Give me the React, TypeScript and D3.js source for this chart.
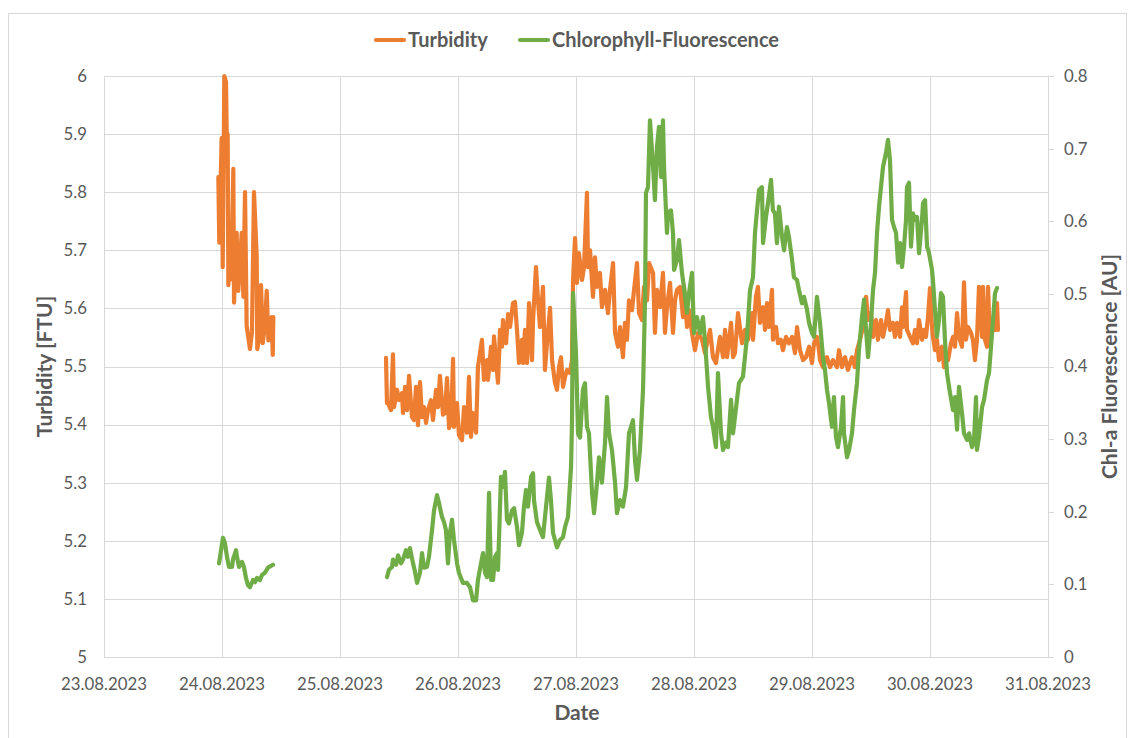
import React, { useEffect, useRef } from 'react';
import * as d3 from 'd3';

// [decimal day of August 2023, value]
const turbidityA: [number, number][] = [
  [23.969, 5.826], [23.977, 5.713], [23.997, 5.893], [24.006, 5.671], [24.020, 6.0], [24.034, 5.99],
  [24.040, 5.9], [24.048, 5.9], [24.054, 5.64], [24.068, 5.72], [24.078, 5.65], [24.096, 5.84],
  [24.102, 5.61], [24.124, 5.73], [24.138, 5.63], [24.167, 5.73], [24.181, 5.62], [24.195, 5.8],
  [24.209, 5.57], [24.237, 5.53], [24.254, 5.56], [24.271, 5.8], [24.294, 5.69], [24.299, 5.53],
  [24.316, 5.55], [24.331, 5.64], [24.345, 5.54], [24.364, 5.57], [24.379, 5.63], [24.393, 5.545],
  [24.407, 5.58], [24.421, 5.585], [24.430, 5.52], [24.435, 5.585],
];

const turbidityB: [number, number][] = [
  [25.390, 5.515], [25.398, 5.437], [25.407, 5.437], [25.432, 5.425], [25.449, 5.521], [25.458, 5.430],
  [25.483, 5.460], [25.500, 5.442], [25.525, 5.454], [25.534, 5.420], [25.551, 5.465], [25.568, 5.425],
  [25.585, 5.484], [25.610, 5.413], [25.627, 5.408], [25.644, 5.465], [25.661, 5.399], [25.678, 5.473],
  [25.695, 5.413], [25.712, 5.430], [25.729, 5.403], [25.746, 5.425], [25.771, 5.442], [25.788, 5.408],
  [25.814, 5.460], [25.831, 5.430], [25.847, 5.484], [25.873, 5.417], [25.890, 5.420], [25.907, 5.480],
  [25.924, 5.394], [25.941, 5.403], [25.958, 5.513], [25.966, 5.396], [25.992, 5.437], [26.008, 5.382],
  [26.034, 5.373], [26.051, 5.430], [26.076, 5.386], [26.093, 5.482], [26.110, 5.379], [26.127, 5.420],
  [26.153, 5.386], [26.169, 5.499], [26.203, 5.546], [26.220, 5.477], [26.246, 5.511], [26.254, 5.477],
  [26.280, 5.534], [26.297, 5.494], [26.305, 5.552], [26.331, 5.489], [26.339, 5.472], [26.356, 5.563],
  [26.373, 5.534], [26.381, 5.580], [26.407, 5.540], [26.424, 5.590], [26.441, 5.568], [26.466, 5.609],
  [26.483, 5.611], [26.500, 5.563], [26.517, 5.506], [26.542, 5.546], [26.551, 5.506], [26.568, 5.563],
  [26.585, 5.506], [26.602, 5.609], [26.627, 5.511], [26.636, 5.580], [26.661, 5.671], [26.678, 5.614],
  [26.695, 5.568], [26.720, 5.637], [26.737, 5.494], [26.754, 5.540], [26.780, 5.601], [26.797, 5.511],
  [26.822, 5.472], [26.839, 5.460], [26.856, 5.499], [26.873, 5.516], [26.890, 5.465], [26.907, 5.482],
  [26.924, 5.494], [26.949, 5.489], [26.966, 5.511], [26.975, 5.649], [26.992, 5.721], [27.008, 5.644],
  [27.025, 5.695], [27.051, 5.649], [27.068, 5.671], [27.093, 5.799], [27.102, 5.671], [27.119, 5.700],
  [27.144, 5.620], [27.161, 5.688], [27.178, 5.637], [27.203, 5.661], [27.220, 5.602], [27.246, 5.632],
  [27.271, 5.592], [27.288, 5.632], [27.314, 5.678], [27.331, 5.558], [27.356, 5.534], [27.373, 5.568],
  [27.398, 5.516], [27.415, 5.575], [27.432, 5.546], [27.449, 5.614], [27.475, 5.597], [27.492, 5.632],
  [27.517, 5.678], [27.534, 5.592], [27.559, 5.580], [27.576, 5.637], [27.602, 5.614], [27.619, 5.678],
  [27.653, 5.661], [27.669, 5.558], [27.686, 5.632], [27.712, 5.602], [27.737, 5.661], [27.754, 5.558],
  [27.771, 5.602], [27.797, 5.644], [27.822, 5.558], [27.839, 5.614], [27.856, 5.632], [27.881, 5.637],
  [27.907, 5.585], [27.915, 5.637], [27.941, 5.568], [27.958, 5.597], [27.983, 5.558], [28.008, 5.528],
  [28.034, 5.558], [28.068, 5.546], [28.093, 5.523], [28.136, 5.563], [28.161, 5.516], [28.186, 5.506],
  [28.220, 5.551], [28.246, 5.516], [28.263, 5.563], [28.280, 5.516], [28.314, 5.575], [28.331, 5.516],
  [28.347, 5.523], [28.373, 5.592], [28.407, 5.540], [28.432, 5.563], [28.458, 5.546], [28.492, 5.592],
  [28.500, 5.546], [28.525, 5.620], [28.542, 5.637], [28.559, 5.575], [28.585, 5.602], [28.602, 5.563],
  [28.619, 5.609], [28.636, 5.568], [28.661, 5.632], [28.669, 5.546], [28.695, 5.568], [28.712, 5.540],
  [28.737, 5.546], [28.754, 5.528], [28.780, 5.551], [28.805, 5.540], [28.831, 5.551], [28.856, 5.523],
  [28.873, 5.568], [28.898, 5.528], [28.924, 5.511], [28.949, 5.516], [28.975, 5.534], [29.000, 5.506],
  [29.017, 5.540], [29.042, 5.551], [29.059, 5.528], [29.068, 5.511], [29.093, 5.499], [29.127, 5.516],
  [29.153, 5.499], [29.178, 5.511], [29.212, 5.499], [29.229, 5.528], [29.254, 5.499], [29.280, 5.516],
  [29.305, 5.494], [29.339, 5.516], [29.364, 5.499], [29.381, 5.528], [29.407, 5.546], [29.432, 5.568],
  [29.458, 5.620], [29.475, 5.580], [29.500, 5.592], [29.517, 5.551], [29.542, 5.580], [29.559, 5.546],
  [29.585, 5.580], [29.602, 5.551], [29.627, 5.575], [29.644, 5.597], [29.661, 5.563], [29.686, 5.575],
  [29.703, 5.551], [29.720, 5.575], [29.746, 5.551], [29.763, 5.602], [29.771, 5.568], [29.797, 5.628],
  [29.805, 5.563], [29.831, 5.551], [29.856, 5.540], [29.873, 5.563], [29.890, 5.540], [29.907, 5.580],
  [29.932, 5.546], [29.949, 5.563], [29.966, 5.551], [29.983, 5.585], [30.000, 5.635], [30.017, 5.568],
  [30.025, 5.551], [30.042, 5.528], [30.059, 5.546], [30.076, 5.511], [30.102, 5.534], [30.119, 5.499],
  [30.136, 5.523], [30.153, 5.511], [30.178, 5.540], [30.195, 5.551], [30.212, 5.534], [30.229, 5.592],
  [30.246, 5.551], [30.271, 5.534], [30.288, 5.645], [30.305, 5.546], [30.322, 5.568], [30.347, 5.558],
  [30.364, 5.546], [30.381, 5.511], [30.398, 5.546], [30.415, 5.637], [30.441, 5.551], [30.449, 5.637],
  [30.466, 5.546], [30.483, 5.534], [30.492, 5.637], [30.508, 5.540], [30.534, 5.568], [30.551, 5.563],
  [30.568, 5.609], [30.576, 5.563],
];

const chlA: [number, number][] = [
  [23.975, 0.129], [23.992, 0.147], [24.008, 0.164], [24.025, 0.157], [24.042, 0.138], [24.059, 0.124],
  [24.085, 0.124], [24.093, 0.134], [24.119, 0.147], [24.127, 0.138], [24.144, 0.124], [24.169, 0.131],
  [24.186, 0.124], [24.203, 0.109], [24.220, 0.099], [24.237, 0.096], [24.263, 0.106], [24.280, 0.103],
  [24.297, 0.109], [24.322, 0.106], [24.339, 0.113], [24.364, 0.116], [24.390, 0.123], [24.432, 0.127],
];

const chlB: [number, number][] = [
  [25.398, 0.110], [25.415, 0.120], [25.441, 0.124], [25.449, 0.134], [25.475, 0.127], [25.492, 0.140],
  [25.517, 0.129], [25.534, 0.134], [25.559, 0.147], [25.576, 0.138], [25.593, 0.150], [25.619, 0.129],
  [25.636, 0.117], [25.653, 0.102], [25.678, 0.116], [25.695, 0.143], [25.712, 0.123], [25.737, 0.124],
  [25.754, 0.138], [25.780, 0.175], [25.797, 0.202], [25.822, 0.223], [25.839, 0.212], [25.864, 0.193],
  [25.881, 0.186], [25.898, 0.175], [25.915, 0.129], [25.932, 0.171], [25.949, 0.189], [25.966, 0.161],
  [25.992, 0.129], [26.008, 0.116], [26.042, 0.102], [26.076, 0.102], [26.102, 0.096], [26.127, 0.078],
  [26.153, 0.078], [26.169, 0.106], [26.195, 0.129], [26.212, 0.143], [26.229, 0.116], [26.246, 0.110],
  [26.263, 0.226], [26.280, 0.106], [26.297, 0.106], [26.314, 0.138], [26.331, 0.143], [26.339, 0.120],
  [26.364, 0.248], [26.381, 0.234], [26.398, 0.255], [26.415, 0.189], [26.432, 0.184], [26.458, 0.202],
  [26.475, 0.205], [26.500, 0.179], [26.517, 0.154], [26.542, 0.171], [26.559, 0.207], [26.576, 0.230],
  [26.593, 0.207], [26.619, 0.248], [26.636, 0.253], [26.644, 0.216], [26.669, 0.186], [26.695, 0.175],
  [26.720, 0.165], [26.746, 0.207], [26.771, 0.247], [26.788, 0.216], [26.805, 0.171], [26.839, 0.151],
  [26.864, 0.161], [26.890, 0.165], [26.907, 0.179], [26.932, 0.193], [26.958, 0.262], [26.966, 0.322],
  [26.975, 0.501], [27.000, 0.419], [27.017, 0.308], [27.034, 0.302], [27.059, 0.368], [27.076, 0.377],
  [27.093, 0.317], [27.110, 0.308], [27.136, 0.226], [27.153, 0.198], [27.178, 0.240], [27.195, 0.275],
  [27.220, 0.240], [27.246, 0.295], [27.263, 0.358], [27.280, 0.308], [27.305, 0.285], [27.331, 0.240],
  [27.347, 0.198], [27.373, 0.216], [27.398, 0.207], [27.424, 0.234], [27.449, 0.308], [27.483, 0.326],
  [27.500, 0.271], [27.517, 0.244], [27.542, 0.285], [27.568, 0.368], [27.585, 0.492], [27.593, 0.639],
  [27.610, 0.647], [27.627, 0.739], [27.653, 0.675], [27.669, 0.629], [27.686, 0.702], [27.703, 0.730],
  [27.720, 0.661], [27.737, 0.739], [27.746, 0.675], [27.771, 0.584], [27.780, 0.611], [27.805, 0.615],
  [27.822, 0.584], [27.831, 0.533], [27.856, 0.547], [27.873, 0.574], [27.898, 0.529], [27.915, 0.509],
  [27.941, 0.474], [27.958, 0.501], [27.983, 0.529], [28.000, 0.446], [28.025, 0.468], [28.051, 0.446],
  [28.076, 0.468], [28.093, 0.436], [28.119, 0.372], [28.144, 0.330], [28.161, 0.317], [28.186, 0.289],
  [28.203, 0.391], [28.229, 0.308], [28.246, 0.285], [28.271, 0.295], [28.288, 0.289], [28.314, 0.354],
  [28.331, 0.308], [28.364, 0.354], [28.381, 0.377], [28.415, 0.386], [28.449, 0.441], [28.475, 0.505],
  [28.500, 0.523], [28.517, 0.584], [28.534, 0.615], [28.551, 0.643], [28.576, 0.647], [28.585, 0.570],
  [28.610, 0.606], [28.627, 0.625], [28.653, 0.657], [28.669, 0.615], [28.686, 0.611], [28.703, 0.570],
  [28.720, 0.620], [28.746, 0.578], [28.763, 0.560], [28.788, 0.592], [28.805, 0.578], [28.831, 0.547],
  [28.847, 0.523], [28.873, 0.519], [28.890, 0.505], [28.915, 0.487], [28.932, 0.496], [28.958, 0.478],
  [28.975, 0.460], [29.000, 0.446], [29.017, 0.441], [29.034, 0.478], [29.042, 0.496], [29.068, 0.460],
  [29.093, 0.413], [29.110, 0.395], [29.127, 0.368], [29.144, 0.350], [29.169, 0.317], [29.186, 0.358],
  [29.203, 0.303], [29.220, 0.289], [29.246, 0.317], [29.263, 0.358], [29.271, 0.308], [29.297, 0.275],
  [29.314, 0.285], [29.339, 0.308], [29.356, 0.340], [29.381, 0.377], [29.398, 0.423], [29.424, 0.468],
  [29.441, 0.492], [29.458, 0.450], [29.475, 0.413], [29.500, 0.460], [29.517, 0.505], [29.534, 0.529],
  [29.551, 0.584], [29.568, 0.620], [29.602, 0.675], [29.627, 0.694], [29.644, 0.712], [29.661, 0.684],
  [29.678, 0.602], [29.695, 0.592], [29.712, 0.584], [29.729, 0.543], [29.746, 0.570], [29.763, 0.537],
  [29.780, 0.565], [29.797, 0.602], [29.805, 0.647], [29.822, 0.653], [29.839, 0.565], [29.856, 0.611],
  [29.873, 0.602], [29.890, 0.606], [29.907, 0.556], [29.932, 0.602], [29.941, 0.625], [29.958, 0.629],
  [29.975, 0.565], [29.992, 0.556], [30.017, 0.533], [30.025, 0.519], [30.042, 0.478], [30.059, 0.441],
  [30.076, 0.464], [30.093, 0.501], [30.110, 0.496], [30.127, 0.436], [30.144, 0.391], [30.169, 0.364],
  [30.195, 0.340], [30.212, 0.358], [30.229, 0.313], [30.246, 0.372], [30.271, 0.336], [30.288, 0.308],
  [30.314, 0.299], [30.331, 0.308], [30.356, 0.289], [30.373, 0.299], [30.390, 0.358], [30.398, 0.285],
  [30.415, 0.303], [30.441, 0.344], [30.458, 0.354], [30.483, 0.381], [30.500, 0.391], [30.517, 0.427],
  [30.534, 0.464], [30.551, 0.501], [30.568, 0.508],
];

const dayTicks = [23, 24, 25, 26, 27, 28, 29, 30, 31];
const turbidityTicks = [5, 5.1, 5.2, 5.3, 5.4, 5.5, 5.6, 5.7, 5.8, 5.9, 6];
const chlTicks = [0, 0.1, 0.2, 0.3, 0.4, 0.5, 0.6, 0.7, 0.8];

const ORANGE = '#ED7D31';
const GREEN = '#70AD47';
const TEXT = '#595959';
const GRID = '#d9d9d9';
const FONT = 'Lato, "Open Sans", sans-serif';

const toDate = (d: number) => new Date(Date.UTC(2023, 7, 1) + (d - 1) * 864e5);

const App = () => {
  const ref = useRef<SVGSVGElement>(null);

  useEffect(() => {
    const svg = d3.select(ref.current);
    svg.selectAll('*').remove();

    const left = 104, right = 1048, top = 76, bottom = 657;

    const x = d3.scaleUtc().domain([toDate(23), toDate(31)]).range([left, right]);
    const yL = d3.scaleLinear().domain([5, 6]).range([bottom, top]);
    const yR = d3.scaleLinear().domain([0, 0.8]).range([bottom, top]);
    const fmtDate = d3.utcFormat('%d.%m.%Y');

    // chart frame
    svg.append('rect')
      .attr('x', 8.5).attr('y', 13.5)
      .attr('width', 1118).attr('height', 740)
      .attr('fill', 'white').attr('stroke', GRID);

    // gridlines
    svg.append('g').selectAll('line')
      .data(turbidityTicks)
      .join('line')
      .attr('x1', left).attr('x2', right)
      .attr('y1', d => Math.round(yL(d)) + 0.5).attr('y2', d => Math.round(yL(d)) + 0.5)
      .attr('stroke', GRID).attr('stroke-width', 1);

    svg.append('g').selectAll('line')
      .data(dayTicks)
      .join('line')
      .attr('x1', d => Math.round(x(toDate(d))) + 0.5).attr('x2', d => Math.round(x(toDate(d))) + 0.5)
      .attr('y1', top).attr('y2', bottom)
      .attr('stroke', GRID).attr('stroke-width', 1);

    // right axis tick marks
    svg.append('g').selectAll('line')
      .data(chlTicks)
      .join('line')
      .attr('x1', right).attr('x2', right + 6)
      .attr('y1', d => Math.round(yR(d)) + 0.5).attr('y2', d => Math.round(yR(d)) + 0.5)
      .attr('stroke', GRID).attr('stroke-width', 1);

    // tick labels
    const labels = svg.append('g')
      .attr('font-family', FONT).attr('font-size', 16.8).attr('fill', TEXT);

    labels.selectAll('text.yl')
      .data(turbidityTicks)
      .join('text')
      .attr('class', 'yl')
      .attr('x', 87).attr('y', d => yL(d))
      .attr('dy', '0.35em').attr('text-anchor', 'end')
      .text(d => d3.format('~g')(d));

    labels.selectAll('text.yr')
      .data(chlTicks)
      .join('text')
      .attr('class', 'yr')
      .attr('x', 1064).attr('y', d => yR(d))
      .attr('dy', '0.35em').attr('text-anchor', 'start')
      .text(d => d3.format('~g')(d));

    labels.selectAll('text.xl')
      .data(dayTicks)
      .join('text')
      .attr('class', 'xl')
      .attr('x', d => x(toDate(d))).attr('y', 684)
      .attr('dy', '0.35em').attr('text-anchor', 'middle')
      .text(d => fmtDate(toDate(d)));

    // axis titles
    const titles = svg.append('g')
      .attr('font-family', FONT).attr('font-size', 21).attr('font-weight', 'bold').attr('fill', TEXT)
      .attr('text-anchor', 'middle');

    titles.append('text').attr('x', 577).attr('y', 713).attr('dy', '0.35em').text('Date');
    titles.append('text')
      .attr('transform', `translate(45,${(top + bottom) / 2}) rotate(-90)`)
      .attr('dy', '0.35em').text('Turbidity [FTU]');
    titles.append('text')
      .attr('transform', `translate(1110,${(top + bottom) / 2}) rotate(-90)`)
      .attr('dy', '0.35em').text('Chl-a Fluorescence [AU]');

    // series
    const lineL = d3.line<[number, number]>().x(d => x(toDate(d[0]))).y(d => yL(d[1]));
    const lineR = d3.line<[number, number]>().x(d => x(toDate(d[0]))).y(d => yR(d[1]));

    const series = svg.append('g')
      .attr('fill', 'none').attr('stroke-width', 4.2)
      .attr('stroke-linejoin', 'round').attr('stroke-linecap', 'round');

    [turbidityA, turbidityB].forEach(seg => {
      series.append('path').attr('d', lineL(seg)).attr('stroke', ORANGE);
    });
    [chlA, chlB].forEach(seg => {
      series.append('path').attr('d', lineR(seg)).attr('stroke', GREEN);
    });

    // legend
    const legend = svg.append('g')
      .attr('font-family', FONT).attr('font-size', 20).attr('font-weight', 'bold').attr('fill', TEXT);
    const items = [
      { name: 'Turbidity', color: ORANGE, x: 376 },
      { name: 'Chlorophyll-Fluorescence', color: GREEN, x: 520 },
    ];
    items.forEach(it => {
      legend.append('line')
        .attr('x1', it.x).attr('x2', it.x + 28).attr('y1', 40).attr('y2', 40)
        .attr('stroke', it.color).attr('stroke-width', 4.2).attr('stroke-linecap', 'round');
      legend.append('text')
        .attr('x', it.x + 32).attr('y', 40).attr('dy', '0.35em')
        .text(it.name);
    });
  }, []);

  return (
    <svg
      ref={ref}
      width={1135}
      height={738}
      style={{ position: 'absolute', left: 0, top: 0 }}
    />
  );
};

export default App;
